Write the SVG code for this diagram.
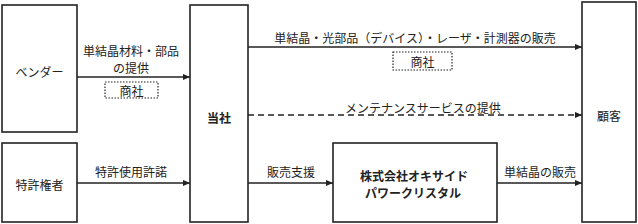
<svg xmlns="http://www.w3.org/2000/svg" width="638" height="224" viewBox="0 0 638 224">
<style>
  .box { fill: #fff; stroke: #222; stroke-width: 1.6; }
  .tag { fill: none; stroke: #222; stroke-width: 1.2; stroke-dasharray: 1.5 1.5; }
  .ln { fill: none; stroke: #222; stroke-width: 1.6; }
  .dash { stroke-dasharray: 6 4; }
  text { font-family: "Noto Sans CJK JP", "Noto Sans CJK SC", sans-serif; font-size: 12px; fill: #222; text-anchor: middle; dominant-baseline: central; }
  .b { font-weight: bold; }
</style>
<defs>
  <marker id="ah" viewBox="0 0 8 8" refX="8" refY="4" markerWidth="7" markerHeight="7" markerUnits="userSpaceOnUse" orient="auto">
    <path d="M0,0.5 L8,4 L0,7.5 Z" fill="#222"/>
  </marker>
</defs>
<rect x="0" y="0" width="638" height="224" fill="#fff"/>
<g id="connectors">
  <line class="ln" x1="77" y1="77" x2="190" y2="77" marker-end="url(#ah)"/>
  <line class="ln" x1="248" y1="47" x2="582" y2="47" marker-end="url(#ah)"/>
  <line class="ln dash" x1="248" y1="115" x2="582" y2="115" marker-end="url(#ah)"/>
  <line class="ln" x1="77" y1="183" x2="190" y2="183" marker-end="url(#ah)"/>
  <line class="ln" x1="248" y1="183" x2="333" y2="183" marker-end="url(#ah)"/>
  <line class="ln" x1="497" y1="183" x2="582" y2="183" marker-end="url(#ah)"/>
  <text x="131" y="50">単結晶材料・部品</text>
  <text x="131" y="67">の提供</text>
  <rect class="tag" x="105" y="82" width="53" height="16"/>
  <text x="131.5" y="90">商社</text>
  <text x="415" y="37.5">単結晶・光部品（デバイス）・レーザ・計測器の販売</text>
  <rect class="tag" x="393" y="52" width="59" height="18"/>
  <text x="422.5" y="61">商社</text>
  <text x="423" y="107">メンテナンスサービスの提供</text>
  <text x="131" y="171">特許使用許諾</text>
  <text x="291" y="171">販売支援</text>
  <text x="540" y="171">単結晶の販売</text>
</g>
<g id="vendor">
  <rect class="box" x="2" y="5" width="75" height="127"/>
  <text x="39.5" y="71">ベンダー</text>
</g>
<g id="patent">
  <rect class="box" x="2" y="143" width="75" height="79"/>
  <text x="39.5" y="184.5">特許権者</text>
</g>
<g id="company">
  <rect class="box" x="190" y="5" width="58" height="217"/>
  <text class="b" x="219" y="117">当社</text>
</g>
<g id="customer">
  <rect class="box" x="582" y="2" width="54" height="220"/>
  <text x="609" y="115">顧客</text>
</g>
<g id="oxide">
  <rect class="box" x="333" y="143" width="164" height="79"/>
  <text class="b" x="414" y="175">株式会社オキサイド</text>
  <text class="b" x="413" y="192">パワークリスタル</text>
</g>
</svg>
